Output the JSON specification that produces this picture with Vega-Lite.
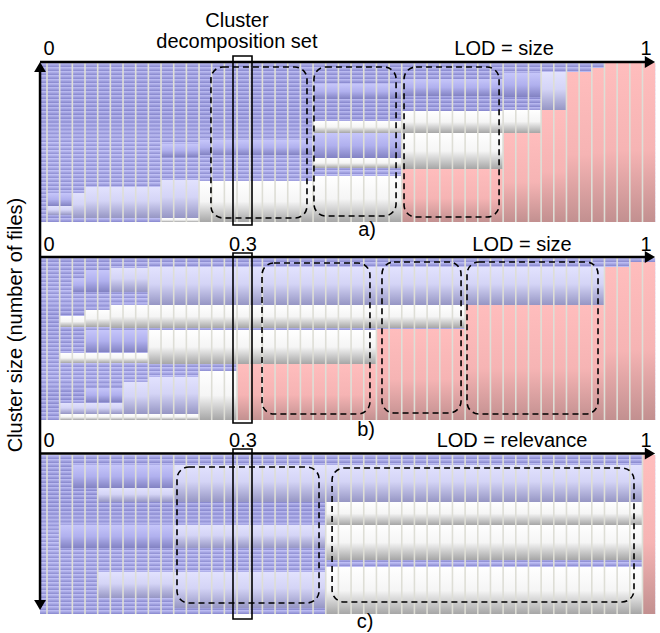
{
  "$schema": "https://vega.github.io/schema/vega-lite/v6.json",
  "width": 660,
  "height": 633,
  "autosize": {"type": "fit", "contains": "padding"},
  "padding": 0,
  "background": "white",
  "config": {"view": {"stroke": null}, "font": "Liberation Sans"},
  "datasets": {
    "panels": [
      {"panel": "a", "x": 0.45, "x2": 49, "y": 63, "y2": 222},
      {"panel": "b", "x": 0.45, "x2": 49, "y": 258, "y2": 420},
      {"panel": "c", "x": 0.45, "x2": 49, "y": 455, "y2": 614}
    ],
    "cells": [
      {"kind": "blue", "x": 1, "x2": 3, "y": 193, "y2": 206},
      {"kind": "blue", "x": 10, "x2": 13, "y": 144, "y2": 157},
      {"kind": "blue", "x": 13, "x2": 22, "y": 140, "y2": 155},
      {"kind": "blue", "x": 22, "x2": 29, "y": 84, "y2": 99},
      {"kind": "blue", "x": 22, "x2": 29, "y": 133, "y2": 158},
      {"kind": "blue", "x": 29, "x2": 37, "y": 79, "y2": 96},
      {"kind": "blue", "x": 37, "x2": 40, "y": 73, "y2": 97},
      {"kind": "lav", "x": 1, "x2": 3, "y": 206, "y2": 215},
      {"kind": "lav", "x": 3, "x2": 4, "y": 193, "y2": 218},
      {"kind": "lav", "x": 4, "x2": 10, "y": 187, "y2": 218},
      {"kind": "lav", "x": 10, "x2": 13, "y": 180, "y2": 218},
      {"kind": "lav", "x": 40, "x2": 42, "y": 72, "y2": 110},
      {"kind": "white", "x": 10, "x2": 13, "y": 218, "y2": 222},
      {"kind": "white", "x": 13, "x2": 22, "y": 181, "y2": 222},
      {"kind": "white", "x": 22, "x2": 29, "y": 121, "y2": 133},
      {"kind": "white", "x": 22, "x2": 29, "y": 158, "y2": 168},
      {"kind": "white", "x": 22, "x2": 29, "y": 176, "y2": 222},
      {"kind": "white", "x": 29, "x2": 37, "y": 111, "y2": 133},
      {"kind": "white", "x": 29, "x2": 37, "y": 133, "y2": 169},
      {"kind": "white", "x": 37, "x2": 40, "y": 110, "y2": 133},
      {"kind": "pink", "x": 29, "x2": 37, "y": 169, "y2": 222},
      {"kind": "pink", "x": 37, "x2": 40, "y": 133, "y2": 222},
      {"kind": "pink", "x": 40, "x2": 42, "y": 110, "y2": 222},
      {"kind": "pink", "x": 42, "x2": 44, "y": 72, "y2": 222},
      {"kind": "pink", "x": 44, "x2": 45, "y": 68, "y2": 222},
      {"kind": "pink", "x": 45, "x2": 49, "y": 63, "y2": 222},

      {"kind": "blue", "x": 3, "x2": 4, "y": 278, "y2": 292},
      {"kind": "blue", "x": 4, "x2": 6, "y": 270, "y2": 292},
      {"kind": "blue", "x": 4, "x2": 9, "y": 330, "y2": 352},
      {"kind": "blue", "x": 4, "x2": 7, "y": 388, "y2": 402},
      {"kind": "lav", "x": 6, "x2": 9, "y": 268, "y2": 292},
      {"kind": "lav", "x": 9, "x2": 45, "y": 267, "y2": 305},
      {"kind": "lav", "x": 7, "x2": 9, "y": 382, "y2": 414},
      {"kind": "lav", "x": 9, "x2": 13, "y": 377, "y2": 414},
      {"kind": "lav", "x": 2, "x2": 7, "y": 403, "y2": 414},
      {"kind": "white", "x": 2, "x2": 4, "y": 316, "y2": 327},
      {"kind": "white", "x": 4, "x2": 6, "y": 310, "y2": 327},
      {"kind": "white", "x": 6, "x2": 34, "y": 305, "y2": 328},
      {"kind": "white", "x": 2, "x2": 9, "y": 353, "y2": 363},
      {"kind": "white", "x": 9, "x2": 27, "y": 330, "y2": 364},
      {"kind": "white", "x": 2, "x2": 13, "y": 414, "y2": 420},
      {"kind": "white", "x": 13, "x2": 16, "y": 371, "y2": 420},
      {"kind": "pink", "x": 16, "x2": 27, "y": 364, "y2": 420},
      {"kind": "pink", "x": 27, "x2": 34, "y": 329, "y2": 420},
      {"kind": "pink", "x": 34, "x2": 45, "y": 305, "y2": 420},
      {"kind": "pink", "x": 45, "x2": 47, "y": 267, "y2": 420},
      {"kind": "pink", "x": 47, "x2": 49, "y": 262, "y2": 420},

      {"kind": "blue", "x": 3, "x2": 11, "y": 465, "y2": 488},
      {"kind": "blue", "x": 2, "x2": 11, "y": 525, "y2": 548},
      {"kind": "lav", "x": 5, "x2": 11, "y": 488, "y2": 502},
      {"kind": "lav", "x": 5, "x2": 11, "y": 572, "y2": 598},
      {"kind": "lav", "x": 11, "x2": 23, "y": 465, "y2": 502},
      {"kind": "lav", "x": 11, "x2": 23, "y": 525, "y2": 548},
      {"kind": "lav", "x": 11, "x2": 23, "y": 572, "y2": 608},
      {"kind": "lav", "x": 23, "x2": 48, "y": 465, "y2": 502},
      {"kind": "white", "x": 23, "x2": 48, "y": 502, "y2": 525},
      {"kind": "white", "x": 23, "x2": 48, "y": 525, "y2": 560},
      {"kind": "white", "x": 23, "x2": 48, "y": 567, "y2": 614},
      {"kind": "pink", "x": 48, "x2": 49, "y": 455, "y2": 614}
    ],
    "seps": [
      {"x": 1, "a": 1, "b": 1, "c": 1}, {"x": 2, "a": 1, "b": 1, "c": 1}, {"x": 3, "a": 1, "b": 1, "c": 1}, {"x": 4, "a": 1, "b": 1, "c": 1},
      {"x": 5, "a": 1, "b": 1, "c": 1}, {"x": 6, "a": 1, "b": 1, "c": 1}, {"x": 7, "a": 1, "b": 1, "c": 1}, {"x": 8, "a": 1, "b": 1, "c": 1},
      {"x": 9, "a": 1, "b": 1, "c": 1}, {"x": 10, "a": 1, "b": 1, "c": 1}, {"x": 11, "a": 1, "b": 1, "c": 1}, {"x": 12, "a": 1, "b": 1, "c": 1},
      {"x": 13, "a": 1, "b": 1, "c": 1}, {"x": 14, "a": 1, "b": 1, "c": 1}, {"x": 15, "a": 1, "b": 1, "c": 1}, {"x": 16, "a": 1, "b": 1, "c": 1},
      {"x": 17, "a": 1, "b": 1, "c": 1}, {"x": 18, "a": 1, "b": 1, "c": 1}, {"x": 19, "a": 1, "b": 1, "c": 1}, {"x": 20, "a": 1, "b": 1, "c": 1},
      {"x": 21, "a": 1, "b": 1, "c": 1}, {"x": 22, "a": 1, "b": 1, "c": 1}, {"x": 23, "a": 1, "b": 1, "c": 1}, {"x": 24, "a": 1, "b": 1, "c": 1},
      {"x": 25, "a": 1, "b": 1, "c": 1}, {"x": 26, "a": 1, "b": 1, "c": 1}, {"x": 27, "a": 1, "b": 1, "c": 1}, {"x": 28, "a": 1, "b": 1, "c": 1},
      {"x": 29, "a": 1, "b": 1, "c": 1}, {"x": 30, "a": 1, "b": 1, "c": 1}, {"x": 31, "a": 1, "b": 1, "c": 1}, {"x": 32, "a": 1, "b": 1, "c": 1},
      {"x": 33, "a": 1, "b": 1, "c": 1}, {"x": 34, "a": 1, "b": 1, "c": 1}, {"x": 35, "a": 1, "b": 1, "c": 1}, {"x": 36, "a": 1, "b": 1, "c": 1},
      {"x": 37, "a": 1, "b": 1, "c": 1}, {"x": 38, "a": 1, "b": 1, "c": 1}, {"x": 39, "a": 1, "b": 1, "c": 1}, {"x": 40, "a": 1, "b": 1, "c": 1},
      {"x": 41, "a": 1, "b": 1, "c": 1}, {"x": 42, "a": 1, "b": 1, "c": 1}, {"x": 43, "a": 1, "b": 1, "c": 1}, {"x": 44, "a": 1, "b": 1, "c": 1},
      {"x": 45, "a": 1, "b": 1, "c": 1}, {"x": 46, "a": 1, "b": 1, "c": 1}, {"x": 47, "a": 1, "b": 1, "c": 1}, {"x": 48, "a": 1, "b": 1, "c": 1}
    ],
    "dashed": [
      {"x": 13.94, "x2": 21.52, "y": 67, "y2": 218},
      {"x": 22.07, "x2": 28.55, "y": 67, "y2": 216},
      {"x": 29.18, "x2": 36.68, "y": 67, "y2": 217},
      {"x": 17.97, "x2": 26.49, "y": 263, "y2": 414},
      {"x": 27.44, "x2": 33.68, "y": 262, "y2": 413},
      {"x": 34.15, "x2": 44.49, "y": 262, "y2": 414},
      {"x": 11.26, "x2": 22.47, "y": 467, "y2": 603},
      {"x": 23.5, "x2": 47.33, "y": 468, "y2": 602}
    ],
    "solid": [
      {"x": 15.68, "x2": 17.18, "y": 56, "y2": 225},
      {"x": 15.68, "x2": 17.18, "y": 253, "y2": 423},
      {"x": 15.68, "x2": 17.18, "y": 449, "y2": 619}
    ],
    "axes": [
      {"x": 0.45, "x2": 48.43, "y": 62, "y2": 62},
      {"x": 0.45, "x2": 48.43, "y": 257, "y2": 257},
      {"x": 0.45, "x2": 48.43, "y": 453.5, "y2": 453.5},
      {"x": 0.45, "x2": 0.45, "y": 66, "y2": 605}
    ],
    "arrows": [
      {"x": 48.59, "y": 62, "dir": "right"},
      {"x": 48.59, "y": 257, "dir": "right"},
      {"x": 48.59, "y": 453.5, "dir": "right"},
      {"x": 0.45, "y": 67, "dir": "up"},
      {"x": 0.45, "y": 605, "dir": "down"}
    ],
    "labels": [
      {"label": "Cluster", "x": 15.99, "y": 27},
      {"label": "decomposition set", "x": 15.99, "y": 48},
      {"label": "0", "x": 1.16, "y": 55},
      {"label": "LOD = size", "x": 37.07, "y": 55},
      {"label": "1", "x": 48.28, "y": 55},
      {"label": "a)", "x": 26.26, "y": 236},
      {"label": "0", "x": 1.16, "y": 251},
      {"label": "0.3", "x": 16.47, "y": 251},
      {"label": "LOD = size", "x": 38.49, "y": 251},
      {"label": "1", "x": 48.28, "y": 251},
      {"label": "b)", "x": 26.18, "y": 436},
      {"label": "0", "x": 1.16, "y": 447},
      {"label": "0.3", "x": 16.47, "y": 447},
      {"label": "LOD = relevance", "x": 37.7, "y": 447},
      {"label": "1", "x": 48.28, "y": 447},
      {"label": "c)", "x": 26.1, "y": 628}
    ],
    "ytitle": [
      {"label": "Cluster size (number of files)", "x": -1.447, "y": 325}
    ]
  },
  "encoding": {
    "x": {"field": "x", "type": "quantitative", "scale": {"domain": [-2.7096, 49.382], "nice": false, "zero": false}, "axis": null},
    "y": {"field": "y", "type": "quantitative", "scale": {"domain": [0, 633], "reverse": true, "nice": false, "zero": false}, "axis": null}
  },
  "layer": [
    {
      "data": {"name": "panels"},
      "mark": {"type": "rect", "fill": {"gradient": "linear", "x1": 0, "y1": 0, "x2": 0, "y2": 1, "stops": [
        {"offset": 0, "color": "#c2c2f7"}, {"offset": 0.024, "color": "#8a8acf"},
        {"offset": 0.025, "color": "#c2c2f7"}, {"offset": 0.049, "color": "#8a8acf"},
        {"offset": 0.05, "color": "#c2c2f7"}, {"offset": 0.074, "color": "#8a8acf"},
        {"offset": 0.075, "color": "#c2c2f7"}, {"offset": 0.099, "color": "#8a8acf"},
        {"offset": 0.1, "color": "#c2c2f7"}, {"offset": 0.124, "color": "#8a8acf"},
        {"offset": 0.125, "color": "#c2c2f7"}, {"offset": 0.149, "color": "#8a8acf"},
        {"offset": 0.15, "color": "#c2c2f7"}, {"offset": 0.174, "color": "#8a8acf"},
        {"offset": 0.175, "color": "#c2c2f7"}, {"offset": 0.199, "color": "#8a8acf"},
        {"offset": 0.2, "color": "#c2c2f7"}, {"offset": 0.224, "color": "#8a8acf"},
        {"offset": 0.225, "color": "#c2c2f7"}, {"offset": 0.249, "color": "#8a8acf"},
        {"offset": 0.25, "color": "#c2c2f7"}, {"offset": 0.274, "color": "#8a8acf"},
        {"offset": 0.275, "color": "#c2c2f7"}, {"offset": 0.299, "color": "#8a8acf"},
        {"offset": 0.3, "color": "#c2c2f7"}, {"offset": 0.324, "color": "#8a8acf"},
        {"offset": 0.325, "color": "#c2c2f7"}, {"offset": 0.349, "color": "#8a8acf"},
        {"offset": 0.35, "color": "#c2c2f7"}, {"offset": 0.374, "color": "#8a8acf"},
        {"offset": 0.375, "color": "#c2c2f7"}, {"offset": 0.399, "color": "#8a8acf"},
        {"offset": 0.4, "color": "#c2c2f7"}, {"offset": 0.424, "color": "#8a8acf"},
        {"offset": 0.425, "color": "#c2c2f7"}, {"offset": 0.449, "color": "#8a8acf"},
        {"offset": 0.45, "color": "#c2c2f7"}, {"offset": 0.474, "color": "#8a8acf"},
        {"offset": 0.475, "color": "#c2c2f7"}, {"offset": 0.499, "color": "#8a8acf"},
        {"offset": 0.5, "color": "#c2c2f7"}, {"offset": 0.524, "color": "#8a8acf"},
        {"offset": 0.525, "color": "#c2c2f7"}, {"offset": 0.549, "color": "#8a8acf"},
        {"offset": 0.55, "color": "#c2c2f7"}, {"offset": 0.574, "color": "#8a8acf"},
        {"offset": 0.575, "color": "#c2c2f7"}, {"offset": 0.599, "color": "#8a8acf"},
        {"offset": 0.6, "color": "#c2c2f7"}, {"offset": 0.624, "color": "#8a8acf"},
        {"offset": 0.625, "color": "#c2c2f7"}, {"offset": 0.649, "color": "#8a8acf"},
        {"offset": 0.65, "color": "#c2c2f7"}, {"offset": 0.674, "color": "#8a8acf"},
        {"offset": 0.675, "color": "#c2c2f7"}, {"offset": 0.699, "color": "#8a8acf"},
        {"offset": 0.7, "color": "#c2c2f7"}, {"offset": 0.724, "color": "#8a8acf"},
        {"offset": 0.725, "color": "#c2c2f7"}, {"offset": 0.749, "color": "#8a8acf"},
        {"offset": 0.75, "color": "#c2c2f7"}, {"offset": 0.774, "color": "#8a8acf"},
        {"offset": 0.775, "color": "#c2c2f7"}, {"offset": 0.799, "color": "#8a8acf"},
        {"offset": 0.8, "color": "#c2c2f7"}, {"offset": 0.824, "color": "#8a8acf"},
        {"offset": 0.825, "color": "#c2c2f7"}, {"offset": 0.849, "color": "#8a8acf"},
        {"offset": 0.85, "color": "#c2c2f7"}, {"offset": 0.874, "color": "#8a8acf"},
        {"offset": 0.875, "color": "#c2c2f7"}, {"offset": 0.899, "color": "#8a8acf"},
        {"offset": 0.9, "color": "#c2c2f7"}, {"offset": 0.924, "color": "#8a8acf"},
        {"offset": 0.925, "color": "#c2c2f7"}, {"offset": 0.949, "color": "#8a8acf"},
        {"offset": 0.95, "color": "#c2c2f7"}, {"offset": 0.974, "color": "#8a8acf"},
        {"offset": 0.975, "color": "#c2c2f7"}, {"offset": 0.999, "color": "#8a8acf"}
      ]}},
      "encoding": {"x2": {"field": "x2"}, "y2": {"field": "y2"}}
    },
    {
      "data": {"name": "cells"},
      "transform": [{"filter": "datum.kind === 'blue'"}],
      "mark": {"type": "rect", "fill": {"gradient": "linear", "x1": 0, "y1": 0, "x2": 0, "y2": 1, "stops": [
        {"offset": 0, "color": "#c6c6fa"}, {"offset": 0.5, "color": "#b0b0ee"}, {"offset": 1, "color": "#8282c2"}]}},
      "encoding": {"x2": {"field": "x2"}, "y2": {"field": "y2"}}
    },
    {
      "data": {"name": "cells"},
      "transform": [{"filter": "datum.kind === 'lav'"}],
      "mark": {"type": "rect", "fill": {"gradient": "linear", "x1": 0, "y1": 0, "x2": 0, "y2": 1, "stops": [
        {"offset": 0, "color": "#e2e2fe"}, {"offset": 0.45, "color": "#d4d4f6"}, {"offset": 1, "color": "#9696c4"}]}},
      "encoding": {"x2": {"field": "x2"}, "y2": {"field": "y2"}}
    },
    {
      "data": {"name": "cells"},
      "transform": [{"filter": "datum.kind === 'white'"}],
      "mark": {"type": "rect", "fill": {"gradient": "linear", "x1": 0, "y1": 0, "x2": 0, "y2": 1, "stops": [
        {"offset": 0, "color": "#ffffff"}, {"offset": 0.5, "color": "#f5f5f5"}, {"offset": 1, "color": "#a6a6a6"}]}},
      "encoding": {"x2": {"field": "x2"}, "y2": {"field": "y2"}}
    },
    {
      "data": {"name": "cells"},
      "transform": [{"filter": "datum.kind === 'pink'"}],
      "mark": {"type": "rect", "fill": {"gradient": "linear", "x1": 0, "y1": 0, "x2": 0, "y2": 1, "stops": [
        {"offset": 0, "color": "#ffbdbd"}, {"offset": 0.55, "color": "#f6b4b4"}, {"offset": 1, "color": "#c29090"}]}},
      "encoding": {"x2": {"field": "x2"}, "y2": {"field": "y2"}}
    },
    {
      "data": {"name": "seps"},
      "transform": [
        {"fold": ["a", "b", "c"], "as": ["panel", "flag"]},
        {"lookup": "panel", "from": {"data": {"name": "panels"}, "key": "panel", "fields": ["y", "y2"]}}
      ],
      "mark": {"type": "rule", "color": "#deded6", "strokeWidth": 1.6},
      "encoding": {"y2": {"field": "y2"}}
    },
    {
      "data": {"name": "dashed"},
      "mark": {"type": "rect", "filled": false, "color": "black", "strokeWidth": 1.6, "strokeDash": [6, 4], "cornerRadius": 12},
      "encoding": {"x2": {"field": "x2"}, "y2": {"field": "y2"}}
    },
    {
      "data": {"name": "solid"},
      "mark": {"type": "rect", "filled": false, "color": "black", "strokeWidth": 1.6},
      "encoding": {"x2": {"field": "x2"}, "y2": {"field": "y2"}}
    },
    {
      "data": {"name": "axes"},
      "mark": {"type": "rule", "color": "black", "strokeWidth": 2.5},
      "encoding": {"x2": {"field": "x2"}, "y2": {"field": "y2"}}
    },
    {
      "data": {"name": "arrows"},
      "mark": {"type": "point", "filled": true, "color": "black", "opacity": 1, "size": 140},
      "encoding": {"shape": {"field": "dir", "type": "nominal", "scale": {"domain": ["right", "up", "down"], "range": ["triangle-right", "triangle-up", "triangle-down"]}, "legend": null}}
    },
    {
      "data": {"name": "labels"},
      "mark": {"type": "text", "font": "Liberation Sans", "fontSize": 20, "align": "center", "baseline": "alphabetic", "color": "black"},
      "encoding": {"text": {"field": "label"}}
    },
    {
      "data": {"name": "ytitle"},
      "mark": {"type": "text", "font": "Liberation Sans", "fontSize": 20, "align": "center", "baseline": "middle", "angle": 270, "color": "black"},
      "encoding": {"text": {"field": "label"}}
    }
  ]
}
